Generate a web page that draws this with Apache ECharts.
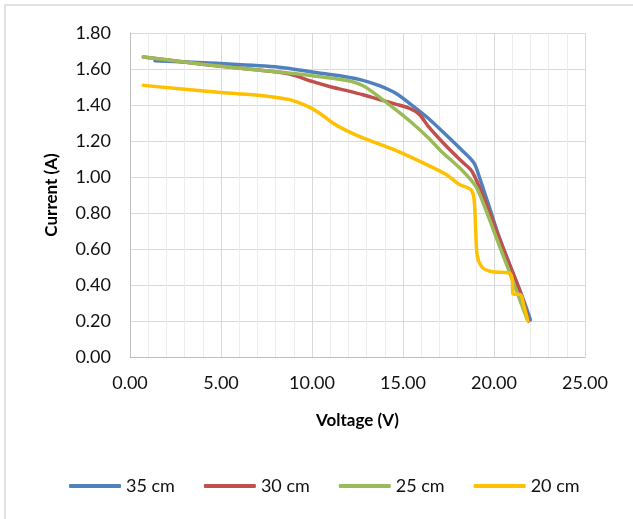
<!DOCTYPE html>
<html>
<head>
<meta charset="utf-8">
<script src="https://cdn.jsdelivr.net/npm/echarts@6/dist/echarts.min.js"></script>
<style>
html,body{margin:0;padding:0;background:#fff;}
#chart{width:633px;height:519px;}
</style>
</head>
<body>
<div id="chart"></div>
<script>
// Data
var seriesNames = ['35 cm', '30 cm', '25 cm', '20 cm'];

var v35 = [1.37, 5, 8.2, 10, 11.9, 12.8, 13.7, 14.6, 15.5, 16.4, 17.3, 18.17, 18.9, 19.18, 19.73, 20.27, 20.9, 21.55, 22.0];
var i35 = [1.646, 1.63, 1.61, 1.583, 1.556, 1.537, 1.507, 1.465, 1.398, 1.325, 1.24, 1.155, 1.078, 1.004, 0.837, 0.67, 0.503, 0.337, 0.207];

var v30 = [0.73, 2.74, 5, 7.3, 8.77, 10, 10.96, 11.87, 12.8, 13.7, 14.6, 15.34, 15.9, 16.4, 17.44, 18.3, 18.8, 19.55, 20.18, 20.82, 21.46, 21.9];
var i30 = [1.667, 1.642, 1.615, 1.592, 1.572, 1.531, 1.503, 1.481, 1.457, 1.43, 1.405, 1.382, 1.348, 1.28, 1.165, 1.08, 1.03, 0.856, 0.689, 0.522, 0.356, 0.2];

var v25 = [0.73, 2.74, 5, 7.3, 10, 11.87, 12.8, 13.7, 14.6, 15.5, 16.4, 17.08, 18.27, 19.0, 19.55, 20.1, 20.73, 21.28, 21.83];
var i25 = [1.667, 1.642, 1.615, 1.592, 1.563, 1.537, 1.507, 1.444, 1.374, 1.30, 1.217, 1.145, 1.035, 0.948, 0.818, 0.67, 0.503, 0.356, 0.207];

var v20 = [0.73, 5, 7.3, 8.77, 9.68, 10.4, 11.14, 11.87, 12.8, 14.6, 16.07, 17.35, 18.08, 18.72, 18.9, 19.0, 19.08, 19.36, 19.9, 20.82, 21.0, 21.04, 21.46, 21.64, 21.86];
var i20 = [1.509, 1.47, 1.452, 1.43, 1.396, 1.356, 1.30, 1.259, 1.217, 1.148, 1.08, 1.015, 0.96, 0.93, 0.88, 0.693, 0.563, 0.498, 0.474, 0.467, 0.433, 0.35, 0.346, 0.285, 0.202];

var colors = ['#4F81BD', '#C0504D', '#9BBB59', '#FFC000'];
var xTitle = 'Voltage (V)';
var yTitle = 'Current (A)';

function pairs(xs, ys) {
  return xs.map(function (x, k) { return [x, ys[k]]; });
}
var allData = [pairs(v35, i35), pairs(v30, i30), pairs(v25, i25), pairs(v20, i20)];

var FONT = 'Lato';
var chart = echarts.init(document.getElementById('chart'), null, {renderer: 'canvas'});
chart.setOption({
  animation: false,
  backgroundColor: '#fff',
  color: colors,
  textStyle: {fontFamily: FONT},
  graphic: [{
    type: 'rect',
    shape: {x: 5, y: 5, width: 700, height: 600},
    style: {fill: 'none', stroke: '#d9d9d9', lineWidth: 1.5},
    silent: true
  }],
  grid: {left: 130, top: 33, right: 48, bottom: 162, containLabel: false},
  xAxis: {
    type: 'value',
    min: 0, max: 25, interval: 5,
    name: xTitle,
    nameLocation: 'middle',
    nameGap: 55,
    nameTextStyle: {fontFamily: FONT, fontWeight: 'bold', fontSize: 17, color: '#000'},
    axisLine: {show: true, lineStyle: {color: '#bfbfbf', width: 1}},
    axisTick: {show: false},
    axisLabel: {fontFamily: FONT, fontSize: 18, color: '#111', margin: 17,
      formatter: function (v) { return v.toFixed(2); }},
    splitLine: {show: true, lineStyle: {color: '#d9d9d9', width: 1}},
    minorTick: {show: false, splitNumber: 5},
    minorSplitLine: {show: true, lineStyle: {color: '#ececec', width: 1}}
  },
  yAxis: {
    type: 'value',
    min: 0, max: 1.8, interval: 0.2,
    name: yTitle,
    nameLocation: 'middle',
    nameGap: 70,
    nameRotate: 90,
    nameTextStyle: {fontFamily: FONT, fontWeight: 'bold', fontSize: 17, color: '#000'},
    axisLine: {show: true, lineStyle: {color: '#bfbfbf', width: 1}},
    axisTick: {show: false},
    axisLabel: {fontFamily: FONT, fontSize: 18, color: '#111', margin: 19,
      formatter: function (v) { return v.toFixed(2); }},
    splitLine: {show: true, lineStyle: {color: '#d9d9d9', width: 1}}
  },
  legend: {
    show: true,
    left: 64,
    top: 472,
    itemWidth: 52,
    itemHeight: 4,
    itemGap: 29,
    icon: 'roundRect',
    textStyle: {fontFamily: FONT, fontSize: 18, color: '#111'},
    data: seriesNames
  },
  series: seriesNames.map(function (name, k) {
    return {
      name: name,
      type: 'line',
      data: allData[k],
      showSymbol: false,
      symbol: 'none',
      smooth: 0.3,
      lineStyle: {width: 3.5, color: colors[k], cap: 'round', join: 'round'},
      itemStyle: {color: colors[k]},
      z: 2 + k
    };
  })
});
</script>
</body>
</html>
